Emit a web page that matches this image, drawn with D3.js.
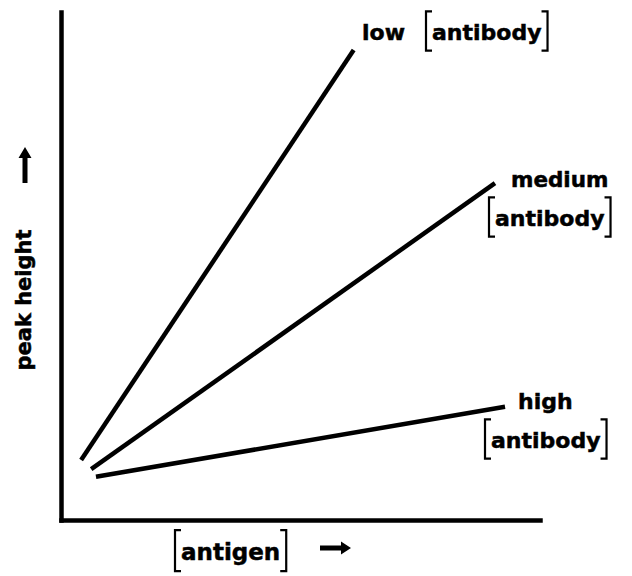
<!DOCTYPE html>
<html>
<head>
<meta charset="utf-8">
<script src="https://cdn.jsdelivr.net/npm/d3@7"></script>
<style>
  html, body { margin: 0; padding: 0; background: #fff; }
  svg { display: block; }
  text { font-family: "DejaVu Sans", sans-serif; font-weight: bold; fill: #000; stroke: #000; stroke-width: 0.5; }
</style>
</head>
<body>
<svg id="chart" width="632" height="576"></svg>
<script>
// Schematic: peak height vs antigen concentration at three antibody levels
const series = ["low", "medium", "high"];
const startX = [4.2, 6.3, 7.3];
const startY = [11.8, 10.0, 8.5];
const endX   = [61.1, 90.6, 92.7];
const endY   = [92.5, 66.3, 22.3];

const width = 632, height = 576;
const svg = d3.select("#chart");

const x = d3.scaleLinear().domain([0, 100]).range([61, 540]);
const y = d3.scaleLinear().domain([0, 100]).range([520, 12]);

// axes: plain frame lines, no ticks
const axisL = d3.axisLeft(y).tickValues([]).tickSizeOuter(0);
const axisB = d3.axisBottom(x).tickValues([]).tickSizeOuter(0);
const gL = svg.append("g").attr("transform", `translate(${x(0)},0)`).call(axisL);
const gB = svg.append("g").attr("transform", `translate(0,${y(0)})`).call(axisB);
[gL, gB].forEach(g => g.select(".domain")
  .attr("stroke", "#000").attr("stroke-width", 4.5).attr("stroke-linecap", "square"));

// response lines
const line = d3.line().x(d => x(d[0])).y(d => y(d[1]));
series.forEach((s, i) => {
  svg.append("path")
    .attr("d", line([[startX[i], startY[i]], [endX[i], endY[i]]]))
    .attr("fill", "none").attr("stroke", "#000").attr("stroke-width", 4.5);
});

// square bracket around a word, e.g. [antibody]
function bracketed(g, word, tx, ty, size) {
  const t = g.append("text").attr("x", tx).attr("y", ty)
    .attr("font-size", size).text(word);
  const w = t.node().getComputedTextLength();
  const top = ty - size * 1.3, bot = ty + size * 0.48, serif = 6;
  const lx = tx - 6, rx = tx + w + 6;
  g.append("path")
    .attr("d", `M${lx + serif},${top} H${lx} V${bot} H${lx + serif}`)
    .attr("fill", "none").attr("stroke", "#000").attr("stroke-width", 2.2);
  g.append("path")
    .attr("d", `M${rx - serif},${top} H${rx} V${bot} H${rx - serif}`)
    .attr("fill", "none").attr("stroke", "#000").attr("stroke-width", 2.2);
}

const labels = svg.append("g");
// low
labels.append("text").attr("x", 362).attr("y", 40).attr("font-size", 22).text("low");
bracketed(labels, "antibody", 432, 40, 22);
// medium
labels.append("text").attr("x", 511).attr("y", 187).attr("font-size", 21.5).text("medium");
bracketed(labels, "antibody", 495, 226, 22);
// high
labels.append("text").attr("x", 518).attr("y", 409).attr("font-size", 22).text("high");
bracketed(labels, "antibody", 491, 448, 22);

// x axis title with arrow
bracketed(labels, "antigen", 181, 560, 23);
svg.append("path")
  .attr("d", "M320,545.5 H341 V541.5 L351,548 L341,554.5 V550.5 H320 Z")
  .attr("fill", "#000");

// y axis title with arrow
svg.append("text")
  .attr("transform", "translate(31,300) rotate(-90)")
  .attr("text-anchor", "middle").attr("font-size", 21)
  .text("peak height");
svg.append("path")
  .attr("d", "M22.5,183 V158 H18.5 L25,147 L31.5,158 H27.5 V183 Z")
  .attr("fill", "#000");
</script>
</body>
</html>
